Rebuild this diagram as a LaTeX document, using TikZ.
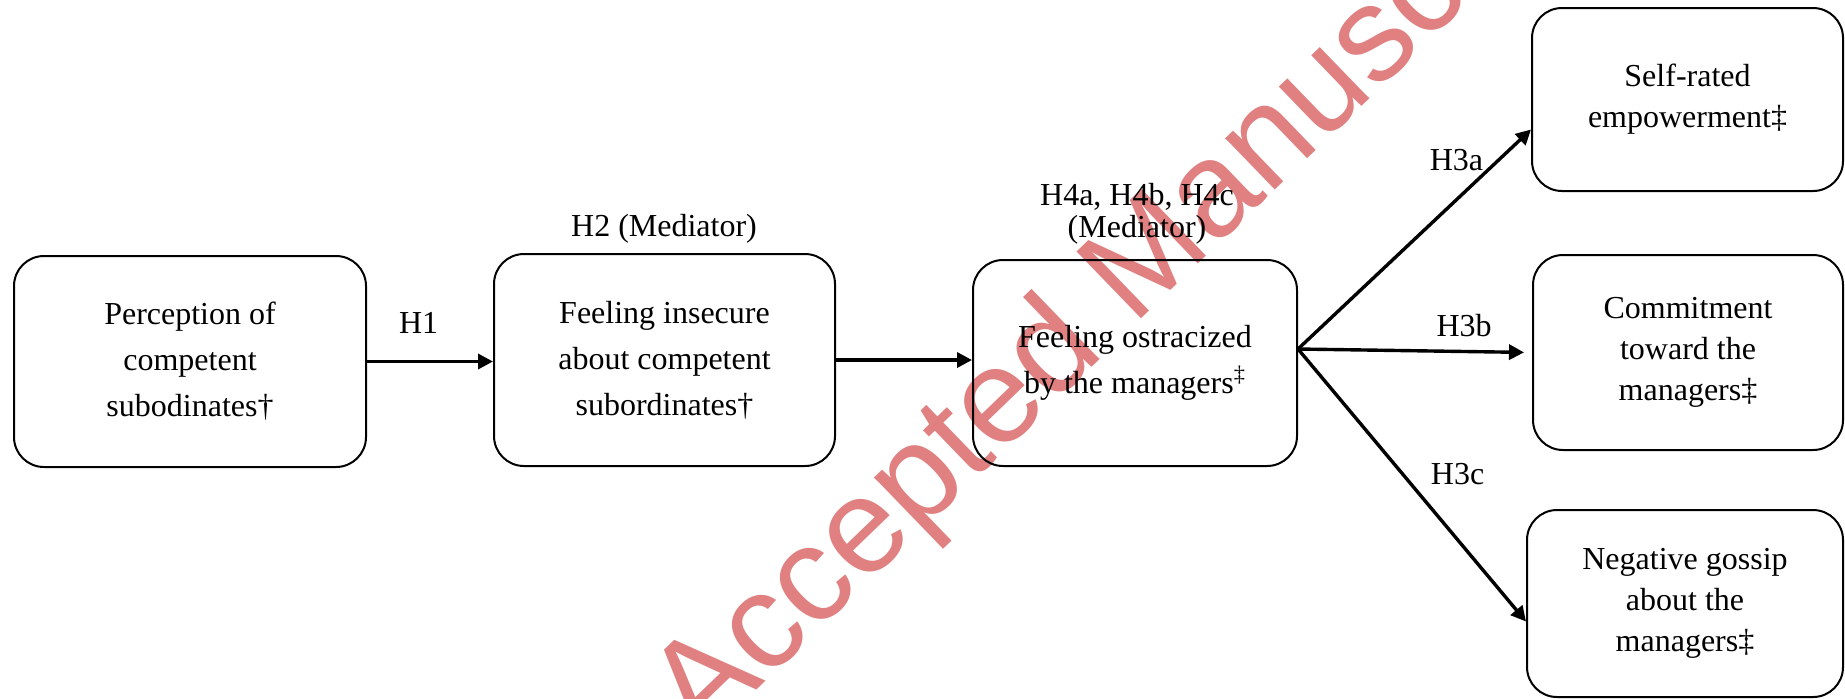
\documentclass[tikz,border=0pt]{standalone}
\usepackage{fontspec}
\setmainfont{Liberation Serif}
\newfontfamily\wmfont{Liberation Sans}
\usetikzlibrary{arrows.meta}
\definecolor{wmred}{HTML}{E08080}

\tikzset{
	,box/.style  = {draw=black, line width=1pt, rounded corners=15pt, align=center, inner sep=0pt, font=\fontsize{16}{23}\selectfont}
	,boxr/.style = {box, font=\fontsize{16}{20.5}\selectfont}
	,lbl/.style  = {align=center, inner sep=0pt, font=\fontsize{16}{16}\selectfont}
	,arr/.style  = {-{Triangle[length=7.5pt,width=7.5pt]}, line width=1.7pt}
	,wmark/.style = {text=wmred, inner sep=0pt, font=\wmfont\fontsize{67.5}{67.5}\selectfont}
}

\begin{document}
\begin{tikzpicture}[x=0.5pt, y=-0.5pt]
				\useasboundingbox (0,0) rectangle (1845,698);
				\node[wmark, rotate=44, anchor=base] (wm) at (1155,306) {Accepted Manuscript};
				\node[box,  minimum width=176pt,   minimum height=105.5pt] at (190,361.5)  (perc)   {Perception of\\competent\\subodinates†};
				\node[box,  minimum width=170.5pt, minimum height=106pt]   at (664.5,360)  (insec)  {Feeling insecure\\about competent\\subordinates†};
				\node[box,  minimum width=162pt,   minimum height=103pt]   at (1135,363)   (ostra)  {Feeling ostracized\\by the managers\textsuperscript{‡}};
				\node[boxr, minimum width=155.5pt, minimum height=91.5pt]  at (1687.5,99.5) (empow) {Self-rated\\empowerment‡};
				\node[boxr, minimum width=155pt,   minimum height=97.5pt]  at (1688,352.5) (commit) {Commitment\\toward the\\managers‡};
				\node[boxr, minimum width=158pt,   minimum height=93.5pt]  at (1685,603.5) (gossip) {Negative gossip\\about the\\managers‡};
				\node[lbl] at (664,229)  (med2) {H2 (Mediator)};
				\node[lbl] at (1137,214) (med3) {H4a, H4b, H4c\\(Mediator)};
				\coordinate (fan) at ([yshift=7pt]ostra.east);
				\draw[arr] (perc.east) -- node[lbl, pos=0.41, yshift=19.5pt] {H1} (perc.east -| insec.west);
				\draw[arr] (insec.east) -- (insec.east -| ostra.west);
				\draw[arr] (fan) -- node[lbl, pos=0.68, yshift=20pt] {H3a} ([yshift=-15pt]empow.west);
				\draw[arr, shorten >=4pt] (fan) -- node[lbl, pos=0.71, yshift=13pt] {H3b} (commit.west);
				\draw[arr] (fan) -- node[lbl, pos=0.70, yshift=33pt] {H3c} ([yshift=-9pt]gossip.west);
			\end{tikzpicture}
\end{document}
